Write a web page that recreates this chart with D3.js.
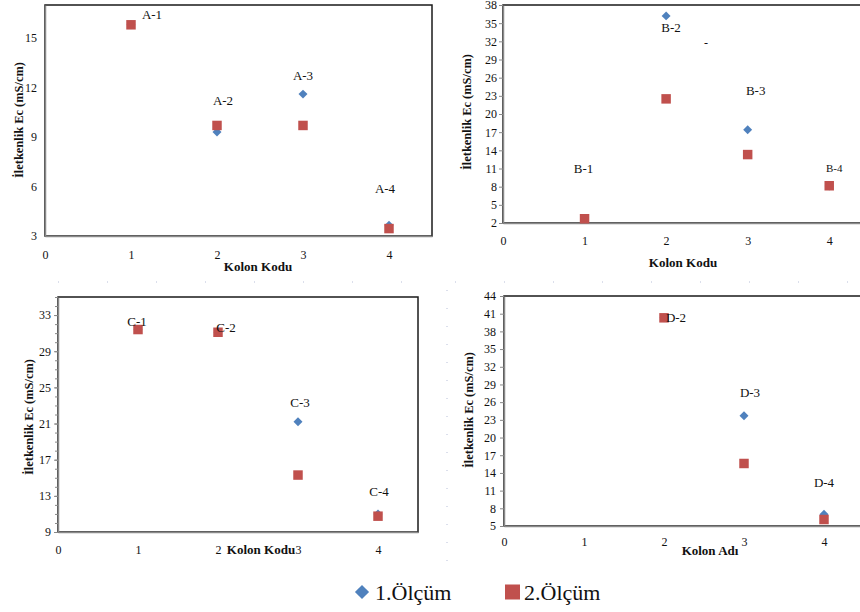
<!DOCTYPE html>
<html>
<head>
<meta charset="utf-8">
<script src="https://cdn.jsdelivr.net/npm/d3@7"></script>
<style>
  body { margin: 0; background: #fff; }
  text { font-family: "Liberation Serif", "Times New Roman", Times, serif; fill: #111; }
  .ytitle, .xtitle { font-weight: bold; }
</style>
</head>
<body>
<svg id="chart"></svg>
<script>
// data
var kolon = [1, 2, 3, 4];
var xTicks = [0, 1, 2, 3, 4];

var aOlcum1 = [15.8, 9.3, 11.6, 3.65];
var aOlcum2 = [15.8, 9.7, 9.7, 3.45];
var aLabels = ["A-1", "A-2", "A-3", "A-4"];
var aTicks = [3, 6, 9, 12, 15];

var bOlcum1 = [2.7, 36.2, 17.4, 8.1];
var bOlcum2 = [2.7, 22.5, 13.3, 8.15];
var bLabels = ["B-1", "B-2", "B-3", "B-4"];
var bTicks = [2, 5, 8, 11, 14, 17, 20, 23, 26, 29, 32, 35, 38];

var cOlcum1 = [31.4, 31.1, 21.2, 11.0];
var cOlcum2 = [31.4, 31.1, 15.3, 10.75];
var cLabels = ["C-1", "C-2", "C-3", "C-4"];
var cTicks = [9, 13, 17, 21, 25, 29, 33];

var dOlcum1 = [null, 40.3, 23.7, 7.0];
var dOlcum2 = [null, 40.3, 15.6, 6.1];
var dLabels = [null, "D-2", "D-3", "D-4"];
var dTicks = [5, 8, 11, 14, 17, 20, 23, 26, 29, 32, 35, 38, 41, 44];

var legendNames = ["1.Ölçüm", "2.Ölçüm"];

var width1 = 860;
var height1 = 612;
var blue = "#4F81BD";
var red = "#C0504D";

var svg = d3.select("#chart")
    .attr("width", width1)
    .attr("height", height1);

// faint dotted page guides seen in the lower half
svg.append("line").attr("x1", 58).attr("x2", 415).attr("y1", 282).attr("y2", 282)
    .attr("stroke", "#b8bfd8").attr("stroke-dasharray", "1,48");
svg.append("line").attr("x1", 455).attr("x2", 860).attr("y1", 282).attr("y2", 282)
    .attr("stroke", "#b8bfd8").attr("stroke-dasharray", "1,48");
svg.append("line").attr("x1", 447).attr("x2", 447).attr("y1", 290).attr("y2", 565)
    .attr("stroke", "#b8bfd8").attr("stroke-dasharray", "1,17");

var panels = [
  { s1: aOlcum1, s2: aOlcum2, labels: aLabels, ticks: aTicks, ydom: [3, 17],
    left: 45, right: 432, top: 5, bottom: 236, tickSize: 0, minor: false,
    yLabX: 37, xLabY: 259, ytX: 19, ytY: 120, xtX: 258, xtY: 271, xTitle: "Kolon Kodu",
    off: [[21, -10], [6, -32], [0, -19], [-4, -37]], labSize: [13, 13, 13, 13] },
  { s1: bOlcum1, s2: bOlcum2, labels: bLabels, ticks: bTicks, ydom: [2, 38],
    left: 503, right: 870, top: 5, bottom: 223, tickSize: 4, minor: false,
    yLabX: 497, xLabY: 245, ytX: 467, ytY: 112, xtX: 683, xtY: 267, xTitle: "Kolon Kodu",
    off: [[-1, -50], [5, 12], [8, -39], [5, -18]], labSize: [13, 13, 13, 11] },
  { s1: cOlcum1, s2: cOlcum2, labels: cLabels, ticks: cTicks, ydom: [9, 35],
    left: 58, right: 418, top: 297, bottom: 532, tickSize: 4, minor: true,
    yLabX: 51, xLabY: 554, ytX: 29, ytY: 417, xtX: 261, xtY: 554, xTitle: "Kolon Kodu",
    off: [[-1, -8], [8, -5], [2, -19], [1, -22]], labSize: [13, 13, 13, 13] },
  { s1: dOlcum1, s2: dOlcum2, labels: dLabels, ticks: dTicks, ydom: [5, 44],
    left: 504, right: 864, top: 296, bottom: 526, tickSize: 4, minor: false,
    yLabX: 496, xLabY: 546, ytX: 469, ytY: 410, xtX: 710, xtY: 555, xTitle: "Kolon Adı",
    off: [[0, 0], [12, 0], [6, -23], [0, -32]], labSize: [13, 13, 13, 13] }
];

panels.forEach(drawPanel);

// stray dash in the B panel
svg.append("text").attr("x", 706).attr("y", 47).attr("text-anchor", "middle")
    .style("font-size", "12px").text("-");

function drawPanel(p) {
  var xScale = d3.scaleLinear().domain([0, 4.5]).range([p.left, p.right]);
  var yScale = d3.scaleLinear().domain(p.ydom).range([p.bottom, p.top]);
  var g = svg.append("g");

  // plot frame
  g.append("rect")
    .attr("x", p.left).attr("y", p.top)
    .attr("width", p.right - p.left).attr("height", p.bottom - p.top)
    .attr("fill", "none").attr("stroke", "#1a1a1a").attr("stroke-width", 1.5);

  if (p.minor) {
    var minorTicks = d3.range(p.ydom[0], p.ydom[1] + 1, 1);
    g.append("g")
      .attr("transform", "translate(" + p.left + ",0)")
      .call(d3.axisLeft(yScale).tickValues(minorTicks).tickSize(3).tickFormat(""))
      .call(a => a.select(".domain").remove())
      .selectAll("line").attr("stroke", "#888");
  }

  var yAxis = g.append("g")
    .attr("transform", "translate(" + p.left + ",0)")
    .call(d3.axisLeft(yScale).tickValues(p.ticks).tickFormat(d3.format("d"))
      .tickSize(p.tickSize).tickSizeOuter(0).tickPadding(p.left - p.yLabX - p.tickSize));
  yAxis.select(".domain").attr("stroke", "#8a8a8a").attr("stroke-width", 1.5);
  yAxis.selectAll("line").attr("stroke", "#888");
  yAxis.selectAll("text").attr("fill", "#111").style("font-family", "Liberation Serif").style("font-size", "12px");

  var xAxis = g.append("g")
    .attr("transform", "translate(0," + p.bottom + ")")
    .call(d3.axisBottom(xScale).tickValues(xTicks).tickFormat(d3.format("d"))
      .tickSize(0).tickSizeOuter(0).tickPadding(p.xLabY - p.bottom - 9));
  xAxis.select(".domain").attr("stroke", "#8a8a8a").attr("stroke-width", 1.5);
  xAxis.selectAll("text").attr("fill", "#111").style("font-family", "Liberation Serif").style("font-size", "12px");

  // axis titles
  g.append("text")
    .attr("class", "ytitle")
    .attr("transform", "translate(" + p.ytX + "," + p.ytY + ") rotate(-90)")
    .attr("text-anchor", "middle")
    .attr("dy", "0.35em")
    .attr("textLength", 116)
    .attr("lengthAdjust", "spacingAndGlyphs")
    .style("font-size", "12px")
    .text("İletkenlik Ec (mS/cm)");

  g.append("text")
    .attr("class", "xtitle")
    .attr("x", p.xtX).attr("y", p.xtY)
    .attr("text-anchor", "middle")
    .style("font-size", "13px")
    .text(p.xTitle);

  var pts = kolon.map((k, i) => ({ k: k, v1: p.s1[i], v2: p.s2[i], lab: p.labels[i], i: i }))
    .filter(d => d.v1 != null);

  // 1.Ölçüm - diamonds
  g.selectAll(".dia").data(pts).join("path")
    .attr("d", d3.symbol().type(d3.symbolSquare).size(40))
    .attr("transform", d => "translate(" + xScale(d.k) + "," + yScale(d.v1) + ") rotate(45)")
    .attr("fill", blue);

  // 2.Ölçüm - squares on top
  g.selectAll(".sq").data(pts).join("path")
    .attr("d", d3.symbol().type(d3.symbolSquare).size(90))
    .attr("transform", d => "translate(" + xScale(d.k) + "," + yScale(d.v2) + ")")
    .attr("fill", red);

  // point labels
  g.selectAll(".lab").data(pts).join("text")
    .attr("x", d => xScale(d.k) + p.off[d.i][0])
    .attr("y", d => yScale(d.v1) + p.off[d.i][1])
    .attr("dy", "0.35em")
    .attr("text-anchor", "middle")
    .style("font-size", d => p.labSize[d.i] + "px")
    .text(d => d.lab);
}

// legend
var legend = svg.append("g").attr("transform", "translate(0,592)");
legend.append("path")
  .attr("d", d3.symbol().type(d3.symbolSquare).size(100))
  .attr("transform", "translate(362,0) rotate(45)")
  .attr("fill", blue);
legend.append("text").attr("x", 375).attr("y", 0).attr("dy", "0.35em")
  .style("font-size", "22px").text(legendNames[0]);
legend.append("rect")
  .attr("x", 505).attr("y", -7.5).attr("width", 15).attr("height", 15)
  .attr("fill", red);
legend.append("text").attr("x", 524).attr("y", 0).attr("dy", "0.35em")
  .style("font-size", "22px").text(legendNames[1]);
</script>
</body>
</html>
